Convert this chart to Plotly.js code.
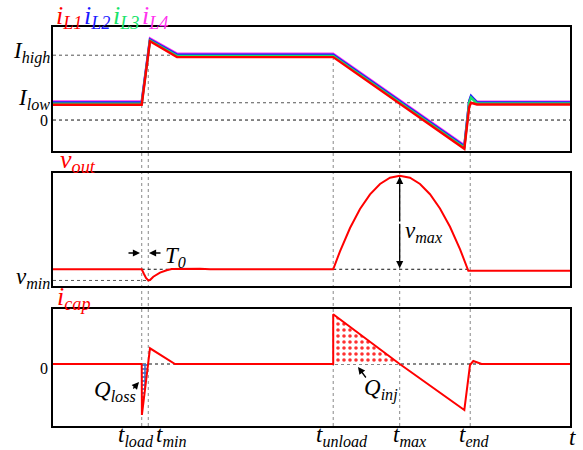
<!DOCTYPE html>
<html><head><meta charset="utf-8">
<script src="https://cdn.plot.ly/plotly-3.0.1.min.js"></script>
<style>html,body{margin:0;padding:0;background:#fff}#chart{width:583px;height:450px}</style>
</head><body><div id="chart"></div>
<script>
// ---- event times (arbitrary time units, x axis 0..100) ----
const eventLabels = ['t<sub>load</sub>', 't<sub>min</sub>', 't<sub>unload</sub>', 't<sub>max</sub>', 't<sub>end</sub>'];
const eventTimes = [17.16, 18.43, 54.2, 67.06, 80.7];

// ---- panel 1: inductor currents (normalised, I_low = 1) ----
const seriesLabels = ['i<sub>L1</sub>', 'i<sub>L2</sub>', 'i<sub>L3</sub>', 'i<sub>L4</sub>'];
const levelLabels = ['I<sub>high</sub>', 'I<sub>low</sub>', '0'];
const levelValues = [3.75, 1.0, 0];
const iTime = [0, 17.16, 18.76, 23.98, 54.2, 79.56, 80.5, 80.85, 82.0, 100];
const iL1 = [0.88, 0.88, 4.56, 3.64, 3.64, -1.66, 0.75, 1.00, 0.90, 0.90];
const iL2 = [1.02, 1.02, 4.66, 3.78, 3.78, -1.52, 1.10, 1.40, 1.02, 1.02];
const iL3 = [0.95, 0.95, 4.61, 3.71, 3.71, -1.59, 1.00, 1.30, 0.96, 0.96];
const iL4 = [1.08, 1.08, 4.72, 3.84, 3.84, -1.46, 1.05, 1.36, 1.06, 1.06];

// ---- panel 2: output voltage ----
const vTime = [0, 17.16, 17.6, 17.99, 18.43, 18.76, 19.4, 20.06, 20.7, 21.99, 22.96, 28.43, 30.37,
               54.2, 55.51, 57.45, 59.38, 61.32, 63.25, 65.18, 67.06, 69.05, 70.99, 72.92, 74.85, 76.79, 78.72, 80.33, 100];
const vOut  = [1.48, 1.48, 1.06, 0.71, 0.49, 0.53, 0.82, 1.04, 1.18, 1.39, 1.50, 1.52, 1.48,
               1.48, 3.07, 5.13, 6.81, 8.11, 9.03, 9.58, 9.76, 9.58, 9.03, 8.12, 6.86, 5.24, 3.27, 1.35, 1.35];
const vNominal = 1.48, vMin = 0.49, vMax = 9.76;

// ---- panel 3: capacitor current ----
const cTime = [0, 17.16, 17.2, 18.76, 23.6, 54.2, 54.2, 67.06, 79.56, 80.66, 81.3, 82.9, 100];
const iCap  = [0, 0, -5.1, 1.57, 0, 0, 4.97, 0, -4.6, -0.1, 0.3, 0, 0];
const qLossT = [17.16, 17.2, 18.4, 17.16], qLossV = [0, -5.1, 0, 0];
const qInjT  = [54.2, 54.2, 67.06, 54.2],  qInjV  = [0, 4.97, 0, 0];

// ---- helpers for layout positions (pixels -> paper) ----
const L = 53, R = 570, T = 27, B = 426;
const px = x => (x - L) / (R - L);
const py = y => (B - y) / (B - T);
const FONT = 'Liberation Serif, Times New Roman, serif';
const RED = '#ff0000', BLUE = '#1a1aff', GREEN = '#19e36a', MAG = '#ff33ee';
const COLORS = [RED, BLUE, GREEN, MAG];

const lineTr = (x, y, color, w, xa, ya) => ({x, y, type: 'scatter', mode: 'lines', xaxis: xa, yaxis: ya,
  line: {color, width: w}, hoverinfo: 'skip', showlegend: false});

const data = [
  lineTr(iTime, iL4, MAG, 2.4, 'x', 'y'),
  lineTr(iTime, iL2, BLUE, 2.4, 'x', 'y'),
  lineTr(iTime, iL3, GREEN, 2.4, 'x', 'y'),
  lineTr(iTime, iL1, RED, 2.4, 'x', 'y'),
  lineTr(vTime, vOut, RED, 2, 'x2', 'y2'),
  {x: qLossT, y: qLossV, type: 'scatter', mode: 'none', fill: 'toself', xaxis: 'x3', yaxis: 'y3',
   fillcolor: '#4472c4', fillpattern: {shape: '.', fgcolor: '#ffffff', bgcolor: '#4472c4', size: 4, solidity: 0.35},
   hoverinfo: 'skip', showlegend: false},
  {x: qInjT, y: qInjV, type: 'scatter', mode: 'none', fill: 'toself', xaxis: 'x3', yaxis: 'y3',
   fillcolor: 'rgba(255,0,0,0.2)', fillpattern: {shape: '.', fgcolor: '#ff3030', bgcolor: '#ffffff', size: 6, solidity: 0.28},
   hoverinfo: 'skip', showlegend: false},
  lineTr(cTime, iCap, RED, 2, 'x3', 'y3')
];

const shapes = [];
const dot = (x0, x1, y0, y1, xref, yref, color) => shapes.push({type: 'line', x0, x1, y0, y1, xref, yref,
  line: {color: color || '#333', width: 1, dash: 'dot'}, layer: 'below'});
// horizontal reference lines
dot(0, eventTimes[2], levelValues[0], levelValues[0], 'x', 'y', '#555');
dot(0, 100, levelValues[1], levelValues[1], 'x', 'y', '#555');
dot(0, 100, levelValues[2], levelValues[2], 'x', 'y', '#111');
dot(0, eventTimes[1], vMin, vMin, 'x2', 'y2', '#555');
dot(eventTimes[0], 22.6, vNominal, vNominal, 'x2', 'y2', '#111');
dot(eventTimes[2], eventTimes[4], vNominal, vNominal, 'x2', 'y2', '#111');
dot(0, 100, 0, 0, 'x3', 'y3', '#111');
// vertical event lines (start heights in paper units)
const vStart = [py(103), py(63), py(53), py(102), py(96)];
eventTimes.forEach((t, i) => shapes.push({type: 'line', x0: t, x1: t, y0: 0, y1: vStart[i], xref: 'x', yref: 'paper',
  line: {color: '#888', width: 1, dash: 'dot'}, layer: 'below'}));

const ann = [];
const txt = (text, x, y, opts) => ann.push(Object.assign({text, x, y, xref: 'paper', yref: 'paper', showarrow: false,
  font: {family: FONT, size: 23, color: '#000'}, xanchor: 'center', yanchor: 'middle'}, opts || {}));
const it = s => s.replace(/^([^<]+)/, '<i>$1</i>').replace(/<sub>([^<]+)<\/sub>/, '<sub><i>$1</i></sub>');

// coloured series labels above panel 1
const seriesX = [54, 82, 111, 140];
seriesLabels.forEach((s, i) => txt(it(s), px(seriesX[i]), py(17),
  {xanchor: 'left', font: {family: FONT, size: 26, color: COLORS[i]}}));
// level labels
txt(it(levelLabels[0]), px(52), py(52), {xanchor: 'right'});
txt(it(levelLabels[1]), px(52), py(99), {xanchor: 'right'});
txt(levelLabels[2], px(50), py(120), {xanchor: 'right', font: {family: FONT, size: 16, color: '#000'}});
// panel 2
txt('<i>v</i><sub><i>out</i></sub>', px(58), py(161), {xanchor: 'left', font: {family: FONT, size: 26, color: RED}});
txt('<i>v</i><sub><i>min</i></sub>', px(52), py(278), {xanchor: 'right'});
txt('<i>T</i><sub><i>0</i></sub>', px(163), py(257), {xanchor: 'left'});
txt('<i>v</i><sub><i>max</i></sub>', px(403), py(232), {xanchor: 'left'});
// panel 3
txt('<i>i</i><sub><i>cap</i></sub>', px(55), py(298), {xanchor: 'left', font: {family: FONT, size: 26, color: RED}});
txt('0', px(50), py(368), {xanchor: 'right', font: {family: FONT, size: 16, color: '#000'}});
txt('<i>Q</i><sub><i>loss</i></sub>', px(138), py(391), {xanchor: 'right'});
txt('<i>Q</i><sub><i>inj</i></sub>', px(362), py(389), {xanchor: 'left'});
// time labels
const labelX = [136, 171, 342, 410, 474];
eventLabels.forEach((s, i) => txt(it(s), px(labelX[i]), py(436)));
txt('<i>t</i>', px(572), py(437));

// arrows
const arrow = (x, y, ax, ay, xref, yref) => ann.push({text: '', x, y, ax, ay, xref, yref, axref: 'pixel', ayref: 'pixel',
  showarrow: true, arrowhead: 2, arrowsize: 1.1, arrowwidth: 1.3, arrowcolor: '#000'});
arrow(px(140), py(253), -13, 0, 'paper', 'paper');
arrow(px(149), py(253), 13, 0, 'paper', 'paper');
arrow(eventTimes[3], vMax - 0.1, 0, 46, 'x2', 'y2');
arrow(eventTimes[3], vNominal + 0.1, 0, -46, 'x2', 'y2');
arrow(px(139), py(382), -7, 8, 'paper', 'paper');
arrow(px(358), py(367), 9, 12, 'paper', 'paper');

const xax = extra => Object.assign({range: [0, 100], showline: true, mirror: true, linewidth: 2, linecolor: '#000',
  showticklabels: false, ticks: '', showgrid: false, zeroline: false, fixedrange: true}, extra);
const yax = (domain, range) => ({domain, range, showline: true, mirror: true, linewidth: 2, linecolor: '#000',
  showticklabels: false, ticks: '', showgrid: false, zeroline: false, fixedrange: true});

const layout = {
  width: 583, height: 450, margin: {l: L, r: 583 - R, t: T, b: 450 - B},
  paper_bgcolor: '#fff', plot_bgcolor: '#fff', showlegend: false,
  xaxis: xax({anchor: 'y'}), xaxis2: xax({anchor: 'y2', matches: 'x'}), xaxis3: xax({anchor: 'y3', matches: 'x'}),
  yaxis: yax([py(151), 1], [-1.79, 5.38]),
  yaxis2: yax([py(286), py(173)], [0, 10]),
  yaxis3: yax([0, py(309)], [-6.2, 5.5]),
  shapes, annotations: ann
};
Plotly.newPlot('chart', data, layout, {displayModeBar: false, staticPlot: true});
</script></body></html>
